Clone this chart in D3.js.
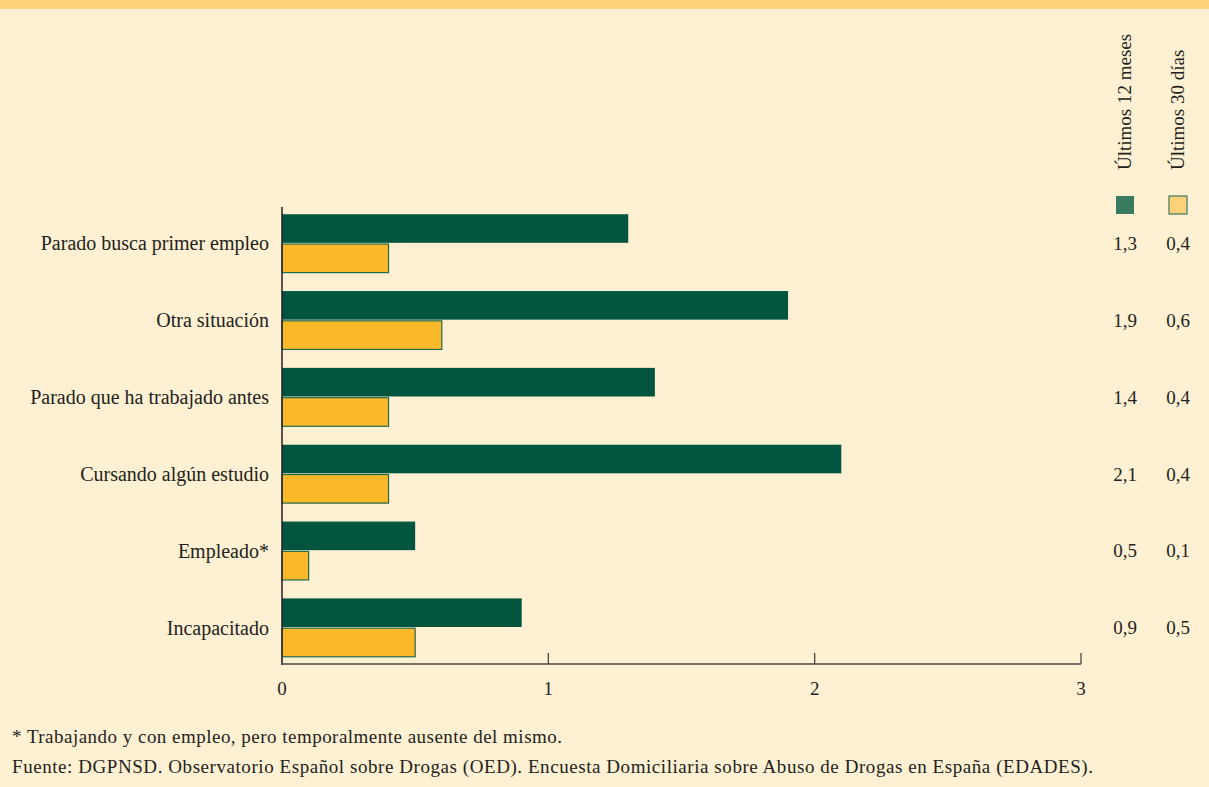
<!DOCTYPE html>
<html><head><meta charset="utf-8">
<script src="https://cdn.jsdelivr.net/npm/d3@7/dist/d3.min.js"></script>
<style>body{margin:0;background:#FEF0D2}svg{display:block}
svg text{font-family:"Liberation Serif","DejaVu Serif","Times New Roman",Times,serif;fill:#231f20}</style>
</head><body>
<svg id="c" width="1209" height="787"></svg>
<script>
const categories = ["Parado busca primer empleo","Otra situación","Parado que ha trabajado antes","Cursando algún estudio","Empleado*","Incapacitado"];
const last12 = [1.3,1.9,1.4,2.1,0.5,0.9];
const last30 = [0.4,0.6,0.4,0.4,0.1,0.5];
const seriesNames = ["Últimos 12 meses","Últimos 30 días"];
const xTicks = [0,1,2,3];
const footnotes = ["* Trabajando y con empleo, pero temporalmente ausente del mismo.",
"Fuente: DGPNSD. Observatorio Español sobre Drogas (OED). Encuesta Domiciliaria sobre Abuso de Drogas en España (EDADES)."];
const footLen = [550,1081];

const svg = d3.select("#c");
svg.append("rect").attr("width",1209).attr("height",787).attr("fill","#FEF0D2");
svg.append("rect").attr("width",1209).attr("height",9).attr("fill","#FFD27A");

const x = d3.scaleLinear().domain([0,3]).range([282,1081]);
const y = d3.scaleBand().domain(categories).range([205,666]).paddingInner(0.24).paddingOuter(0.12);
const sub = d3.scaleBand().domain([0,1]).range([0,y.bandwidth()]).paddingInner(0.04);
const fmt = v => d3.format(".1f")(v).replace(".",",");

const g = svg.append("g");
categories.forEach((c,i)=>{
  g.append("rect").attr("x",x(0)).attr("y",y(c)+sub(0)).attr("width",x(last12[i])-x(0)).attr("height",sub.bandwidth())
    .attr("fill","#01553F");
  g.append("rect").attr("x",x(0)).attr("y",y(c)+sub(1)).attr("width",x(last30[i])-x(0)).attr("height",sub.bandwidth())
    .attr("fill","#FBB829").attr("stroke","#1F6B4A").attr("stroke-width",1.2);
  const cy = y(c)+y.bandwidth()/2;
  g.append("text").attr("x",269).attr("y",cy).attr("dy","0.35em").attr("text-anchor","end")
    .attr("font-size",20).text(c);
  g.append("text").attr("x",1125).attr("y",cy).attr("dy","0.35em").attr("text-anchor","middle")
    .attr("font-size",19).text(fmt(last12[i]));
  g.append("text").attr("x",1178).attr("y",cy).attr("dy","0.35em").attr("text-anchor","middle")
    .attr("font-size",19).text(fmt(last30[i]));
});

// axes
svg.append("line").attr("x1",x(0)).attr("x2",x(0)).attr("y1",207).attr("y2",665).attr("stroke","#231f20").attr("stroke-width",1.5);
svg.append("line").attr("x1",x(0)).attr("x2",x(3)).attr("y1",664).attr("y2",664).attr("stroke","#4a4540").attr("stroke-width",1.5);
xTicks.forEach(t=>{
  svg.append("line").attr("x1",x(t)).attr("x2",x(t)).attr("y1",653).attr("y2",664).attr("stroke","#4a4540").attr("stroke-width",1.3);
  svg.append("text").attr("x",x(t)).attr("y",695).attr("text-anchor","middle")
    .attr("font-size",19).text(t);
});

// legend
const legX = [1125,1178];
const legFill = ["#3A7A5F","#FFD27A"];
seriesNames.forEach((s,i)=>{
  svg.append("rect").attr("x",legX[i]-9).attr("y",196).attr("width",18).attr("height",18)
    .attr("fill",legFill[i]).attr("stroke",i?"#3A7A5F":"none").attr("stroke-width",1.2);
  svg.append("text").attr("transform",`translate(${legX[i]+6},170) rotate(-90)`)
    .attr("font-size",19).text(s);
});

footnotes.forEach((f,i)=>{
  svg.append("text").attr("x",12).attr("y",743+i*30).attr("font-size",19)
    .attr("textLength",footLen[i]).attr("lengthAdjust","spacing").text(f);
});
</script>
</body></html>
